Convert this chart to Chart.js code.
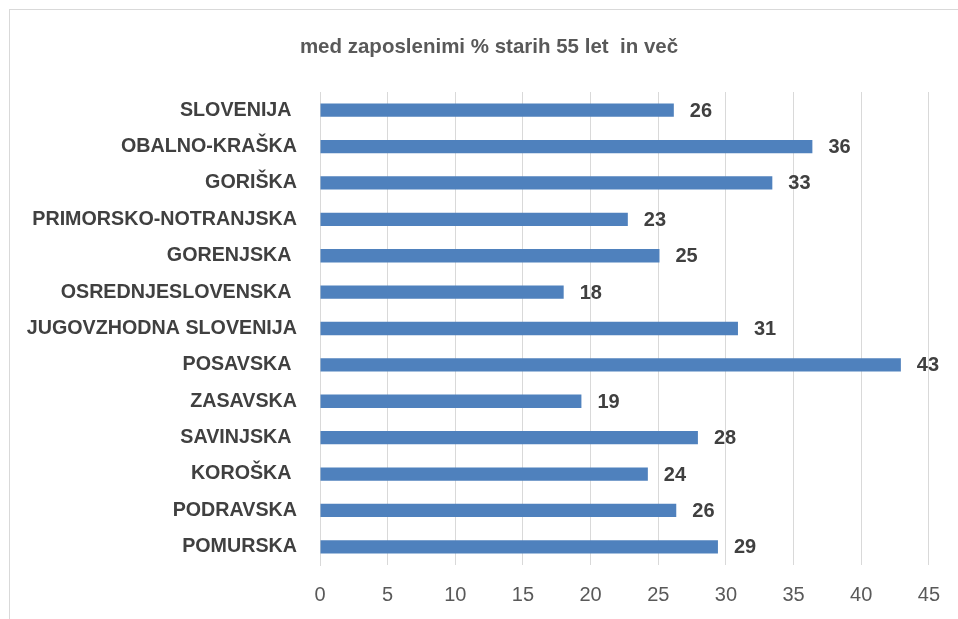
<!DOCTYPE html>
<html>
<head>
<meta charset="utf-8">
<script src="https://cdn.jsdelivr.net/npm/chart.js@4/dist/chart.umd.min.js"></script>
<style>
  html, body { margin: 0; padding: 0; background: #ffffff; overflow: hidden; }
  #wrap { position: relative; width: 958px; height: 619px; }
  #frame { position: absolute; left: 9px; top: 9px; width: 1000px; height: 1000px; border: 1px solid #d9d9d9; box-sizing: border-box; }
  #c { position: absolute; left: 0; top: 0; }
</style>
</head>
<body>
<div id="wrap">
  <div id="frame"></div>
  <canvas id="c" width="958" height="619"></canvas>
</div>
<script>
const chartTitle = 'med zaposlenimi % starih 55 let  in več';
const categories = [
  'SLOVENIJA ', 'OBALNO-KRAŠKA', 'GORIŠKA', 'PRIMORSKO-NOTRANJSKA', 'GORENJSKA ',
  'OSREDNJESLOVENSKA ', 'JUGOVZHODNA SLOVENIJA', 'POSAVSKA ', 'ZASAVSKA', 'SAVINJSKA ',
  'KOROŠKA ', 'PODRAVSKA', 'POMURSKA'
];
const values = [26.15, 36.39, 33.43, 22.75, 25.09, 18.01, 30.89, 42.93, 19.32, 27.93, 24.23, 26.33, 29.41];
const xTicks = [0, 5, 10, 15, 20, 25, 30, 35, 40, 45];

const titlePlugin = {
  id: 'customTitle',
  afterDraw(chart) {
    const ctx = chart.ctx;
    ctx.save();
    ctx.font = 'bold 20.5px "Liberation Sans", Arial, sans-serif';
    ctx.fillStyle = '#595959';
    ctx.textAlign = 'center';
    ctx.textBaseline = 'alphabetic';
    ctx.fillText(chartTitle, 489, 53);
    ctx.restore();
  }
};

const valueLabels = {
  id: 'valueLabels',
  afterDatasetsDraw(chart) {
    const ctx = chart.ctx;
    const meta = chart.getDatasetMeta(0);
    ctx.save();
    ctx.font = 'bold 20px "Liberation Sans", Arial, sans-serif';
    ctx.fillStyle = '#404040';
    ctx.textAlign = 'left';
    ctx.textBaseline = 'middle';
    meta.data.forEach((el, i) => {
      ctx.fillText(String(Math.round(values[i])), el.x + 16, el.y + 1);
    });
    ctx.restore();
  }
};

new Chart(document.getElementById('c'), {
  type: 'bar',
  data: {
    labels: categories,
    datasets: [{
      data: values,
      backgroundColor: '#4f81bd',
      borderWidth: 0,
      barPercentage: 0.366,
      categoryPercentage: 1.0
    }]
  },
  options: {
    indexAxis: 'y',
    responsive: false,
    animation: false,
    events: [],
    layout: { padding: { left: 10, right: 29, top: 92, bottom: 4 } },
    plugins: {
      legend: { display: false },
      tooltip: { enabled: false },
      title: { display: false }
    },
    scales: {
      x: {
        min: 0,
        max: 45,
        afterBuildTicks(scale) { scale.ticks = xTicks.map(v => ({ value: v })); },
        afterFit(scale) { scale.height = 50; },
        grid: { display: true, color: '#d9d9d9', lineWidth: 1, drawTicks: false },
        border: { display: false },
        ticks: {
          color: '#595959',
          padding: 18,
          font: { family: '"Liberation Sans", Arial, sans-serif', size: 20 }
        }
      },
      y: {
        afterFit(scale) { scale.width = 310; },
        grid: { display: false, drawTicks: false },
        border: { display: true, color: '#d9d9d9', width: 1 },
        ticks: {
          color: '#404040',
          padding: 23,
          autoSkip: false,
          font: { family: '"Liberation Sans", Arial, sans-serif', size: 19.7, weight: 'bold' }
        }
      }
    }
  },
  plugins: [valueLabels, titlePlugin]
});
</script>
</body>
</html>
